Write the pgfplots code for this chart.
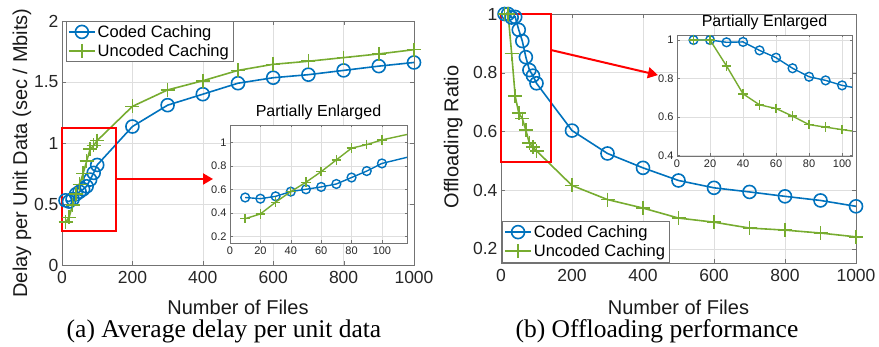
\documentclass[border=0pt]{standalone}
\usepackage{pgfplots}
\pgfplotsset{compat=1.18}
\usetikzlibrary{arrows.meta}
\usepackage{fontspec}
\setmainfont{Liberation Sans}
\newfontfamily\capfont{Liberation Serif}
\definecolor{mblue}{rgb}{0,0.447,0.741}
\definecolor{mgreen}{rgb}{0.466,0.674,0.188}

\pgfplotstableread{
x coded uncoded
10 0.53 0.35
20 0.52 0.39
30 0.54 0.49
40 0.58 0.58
50 0.60 0.66
60 0.62 0.75
70 0.645 0.85
80 0.70 0.95
90 0.755 0.98
100 0.82 1.02
200 1.135 1.30
300 1.31 1.435
400 1.40 1.51
500 1.49 1.595
600 1.535 1.645
700 1.56 1.67
800 1.595 1.70
900 1.63 1.73
1000 1.66 1.765
}\delaytab

\pgfplotstableread{
x coded uncoded
10 1.0 1.0
20 1.0 1.0
30 0.988 0.865
40 0.99 0.72
50 0.946 0.663
60 0.908 0.644
70 0.853 0.604
80 0.809 0.56
90 0.79 0.547
100 0.764 0.534
200 0.603 0.416
300 0.525 0.368
400 0.476 0.339
500 0.433 0.305
600 0.408 0.291
700 0.394 0.271
800 0.379 0.264
900 0.365 0.254
1000 0.345 0.241
}\offtab

\pgfplotsset{
  common/.style={
    scale only axis, anchor=south west,
    axis line style={black!55},
    tick align=inside, tick style={black!55},
    xtick pos=both, ytick pos=both,
    grid=major, major grid style={black!13, line width=0.5pt},
    /pgf/number format/assume math mode=true,
    /pgf/number format/1000 sep={},
    ticklabel style={text=black!85},
  },
  mainax/.style={common,
    major tick length=4pt,
    ticklabel style={font=\fontsize{17.5}{17.5}\selectfont},
    label style={font=\fontsize{20}{20}\selectfont, text=black!90},
    clip=false,
    legend cell align=left,
    legend image code/.code={\draw[mark repeat=2,mark phase=2] plot coordinates {(0pt,0pt) (13pt,0pt) (26pt,0pt)};},
    legend style={font=\fontsize{16.5}{18}\selectfont, draw=black!55, inner sep=2pt, row sep=1.5pt, fill=white},
    xticklabel style={yshift=-3pt},
  },
  insetax/.style={common,
    major tick length=2.5pt,
    ticklabel style={font=\fontsize{11}{11}\selectfont},
    axis background/.style={fill=white},
    clip marker paths=true,
    title style={font=\fontsize{16}{16}\selectfont, yshift=-4pt},
    xtick={0,20,...,100},
  },
  codedmain/.style={mblue, line width=1.6pt, mark=o, mark size=6.5pt},
  uncodedmain/.style={mgreen, line width=1.6pt, mark=+, mark size=7pt},
  codedin/.style={mblue, line width=1.4pt, mark=o, mark size=4.4pt},
  uncodedin/.style={mgreen, line width=1.4pt, mark=+, mark size=4.8pt},
}

\begin{document}
\begin{tikzpicture}
\useasboundingbox (0,0) rectangle (879pt,347pt);

% ---------- (a) ----------
\begin{axis}[mainax, at={(62pt,82pt)}, width=352pt, height=244pt,
  xmin=0, xmax=1000, ymin=0, ymax=2,
  xtick={0,200,...,1000}, ytick={0,0.5,1,1.5,2},
  xlabel={Number of Files},
  ylabel={Delay per Unit Data (sec / Mbits)},
  xlabel style={at={(axis description cs:0.5,-0.201)}, anchor=base},
  ylabel style={at={(axis description cs:-0.114,0.459)}, anchor=center},
  legend style={at={(0.011,1)}, anchor=north west},
]
\addplot[codedmain] table[x=x,y=coded] {\delaytab};
\addplot[uncodedmain] table[x=x,y=uncoded] {\delaytab};
\legend{Coded Caching, Uncoded Caching}
\draw[red, line width=2pt] (axis cs:0,0.28) rectangle (axis cs:153,1.12);
\draw[red, line width=2pt, -{Triangle[length=10pt,width=11pt]}] (axis cs:153,0.705) -- (axis cs:429,0.705);
\end{axis}

\begin{axis}[insetax, at={(230pt,104pt)}, width=177pt, height=118pt,
  xmin=0, xmax=116.5, ymin=0.143, ymax=1.147,
  ytick={0.2,0.4,...,1.0},
  title={Partially Enlarged},
]
\addplot[codedin] table[x=x,y=coded] {\delaytab};
\addplot[uncodedin] table[x=x,y=uncoded] {\delaytab};
\end{axis}

% ---------- (b) ----------
\begin{axis}[mainax, at={(501pt,84pt)}, width=355pt, height=249pt,
  xmin=0, xmax=1000, ymin=0.152, ymax=1,
  xtick={0,200,...,1000}, ytick={0.2,0.4,...,1.0},
  xlabel={Number of Files},
  ylabel={Offloading Ratio},
  xlabel style={at={(axis description cs:0.5,-0.205)}, anchor=base},
  ylabel style={at={(axis description cs:-0.135,0.506)}, anchor=center},
  legend style={at={(0.003,0.004)}, anchor=south west},
]
\addplot[codedmain] table[x=x,y=coded] {\offtab};
\addplot[uncodedmain] table[x=x,y=uncoded] {\offtab};
\legend{Coded Caching, Uncoded Caching}
\draw[red, line width=2pt] (axis cs:0,0.497) rectangle (axis cs:142,1.0);
\draw[red, line width=2pt, -{Triangle[length=10pt,width=11pt]}] (axis cs:142,0.877) -- (axis cs:442,0.792);
\end{axis}

\begin{axis}[insetax, at={(677pt,191pt)}, width=175pt, height=121pt,
  xmin=0, xmax=106, ymin=0.397, ymax=1.026,
  ytick={0.4,0.6,0.8,1.0},
  title={Partially Enlarged},
]
\addplot[codedin] table[x=x,y=coded] {\offtab};
\addplot[uncodedin] table[x=x,y=uncoded] {\offtab};
\end{axis}

\node[anchor=base] at (224pt,9pt) {\capfont\fontsize{25.5}{26}\selectfont (a) Average delay per unit data};
\node[anchor=base] at (657pt,9pt) {\capfont\fontsize{25.5}{26}\selectfont (b) Offloading performance};
\end{tikzpicture}
\end{document}
